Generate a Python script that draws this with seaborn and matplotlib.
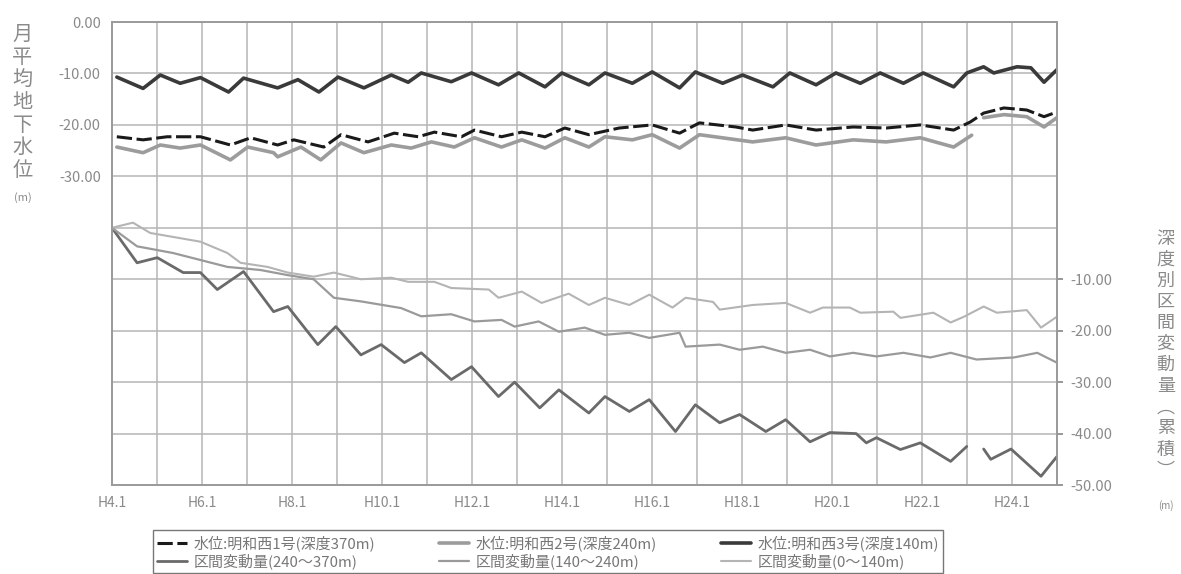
import numpy as np
import pandas as pd
import matplotlib
matplotlib.use("Agg")
import matplotlib.pyplot as plt
import seaborn as sns

# months counted from H4.1 ; values in m (NaN = break in record)
w140_month = [1.3, 8.3, 12.9, 18.2, 23.6, 31.1, 35.1, 44.2, 49.6, 55.2, 60.3, 67.2, 74.5, 79.0, 82.5,
              90.5, 95.9, 103.1, 108.5, 115.5, 120.0, 127.2, 131.5, 138.8, 144.1, 151.4, 155.6, 162.9,
              168.2, 176.3, 180.8, 187.8, 193.1, 199.6, 204.9, 211.1, 216.4, 224.5, 228.0, 232.5, 235.2,
              241.4, 245.1, 248.6, 252.0]
w140_level = [-10.7, -12.9, -10.3, -11.9, -10.8, -13.6, -10.9, -12.8, -11.2, -13.6, -10.7, -12.8, -10.3,
              -11.7, -9.9, -11.6, -9.9, -12.2, -9.9, -12.6, -9.9, -12.2, -9.9, -11.9, -9.7, -12.8, -9.7,
              -11.9, -10.3, -12.6, -9.9, -12.2, -9.9, -11.9, -9.9, -11.9, -9.9, -12.6, -9.9, -8.7, -9.9,
              -8.7, -8.9, -11.7, -9.3]

w370_month = [1.3, 8.3, 14.7, 23.6, 31.6, 37.0, 44.2, 48.5, 56.5, 61.1, 68.3, 75.3, 81.7, 86.0, 93.2,
              96.7, 103.9, 109.3, 115.5, 120.8, 127.2, 135.3, 144.1, 151.4, 156.7, 166.4, 170.9, 179.7,
              187.8, 197.7, 206.5, 215.6, 224.5, 229.0, 232.5, 237.9, 244.0, 248.6, 252.0]
w370_level = [-22.3, -22.9, -22.3, -22.3, -23.9, -22.5, -23.9, -22.9, -24.3, -21.9, -23.3, -21.6, -22.3,
              -21.4, -22.3, -21.0, -22.3, -21.4, -22.3, -20.6, -21.9, -20.6, -20.0, -21.6, -19.6, -20.4,
              -21.0, -20.0, -21.0, -20.4, -20.6, -20.0, -21.0, -19.4, -17.7, -16.7, -17.1, -18.4, -17.5]

w240_month = [1.3, 8.3, 12.9, 18.2, 23.6, 31.6, 36.2, 43.1, 44.2, 50.4, 55.7, 61.1, 67.2, 74.5, 79.8,
              85.2, 91.3, 96.7, 103.9, 109.3, 115.5, 120.8, 127.2, 131.5, 138.8, 144.1, 151.4, 156.7,
              170.9, 179.7, 187.8, 197.7, 206.5, 215.6, 224.5, 229.3, 231.0, 232.5, 237.9, 244.0, 248.6,
              252.0]
w240_level = [-24.3, -25.4, -23.9, -24.5, -23.9, -26.8, -24.3, -25.4, -26.2, -24.3, -26.8, -23.5, -25.4,
              -23.9, -24.5, -23.3, -24.3, -22.5, -24.3, -22.9, -24.5, -22.5, -24.3, -22.3, -22.9, -21.9,
              -24.5, -21.9, -23.3, -22.5, -23.9, -22.9, -23.3, -22.5, -24.3, -22.0, np.nan, -18.6, -18.0,
              -18.4, -20.4, -18.6]

d370_month = [0.0, 6.7, 12.1, 19.0, 23.6, 28.1, 35.1, 43.1, 46.9, 54.9, 59.7, 66.4, 71.8, 78.0, 82.5,
              90.5, 95.9, 103.1, 107.4, 114.1, 119.2, 127.2, 131.5, 138.0, 143.3, 150.3, 155.6, 162.1,
              167.4, 174.4, 179.7, 186.2, 191.5, 198.5, 201.2, 203.9, 210.3, 215.6, 223.7, 228.0, 230.0,
              232.5, 234.4, 239.8, 247.8, 252.0]
d370_change = [0.0, -6.8, -5.8, -8.7, -8.7, -12.0, -8.5, -16.3, -15.3, -22.7, -19.2, -24.7, -22.7, -26.2,
               -24.3, -29.5, -27.0, -32.8, -30.0, -35.0, -31.5, -36.0, -32.8, -35.7, -33.4, -39.6, -34.4,
               -37.9, -36.3, -39.6, -37.3, -41.6, -39.8, -40.0, -41.8, -40.8, -43.1, -41.8, -45.4, -42.5,
               np.nan, -43.0, -45.0, -43.0, -48.3, -44.5]

d240_month = [0.0, 6.7, 16.3, 30.8, 39.6, 46.9, 53.8, 59.2, 66.4, 77.1, 82.5, 90.5, 96.7, 103.9, 107.4,
              113.8, 119.2, 126.1, 131.5, 138.0, 143.3, 151.4, 153.0, 162.1, 167.4, 173.6, 179.7, 186.2,
              191.5, 197.7, 203.9, 211.1, 218.3, 223.7, 230.6, 240.6, 246.8, 252.0]
d240_change = [0.0, -3.6, -4.9, -7.6, -8.2, -9.2, -10.0, -13.6, -14.3, -15.6, -17.2, -16.8, -18.2, -17.9,
               -19.2, -18.2, -20.2, -19.4, -20.8, -20.4, -21.4, -20.4, -23.1, -22.7, -23.7, -23.1, -24.3,
               -23.7, -25.0, -24.3, -25.0, -24.3, -25.2, -24.3, -25.6, -25.2, -24.3, -26.2]

d140_month = [0.0, 5.6, 10.2, 23.6, 30.8, 34.3, 41.5, 46.9, 53.8, 59.2, 66.4, 74.5, 79.0, 86.0, 90.5,
              100.5, 103.1, 109.3, 114.6, 121.8, 127.2, 131.5, 138.0, 143.3, 149.5, 153.0, 160.3, 162.1,
              170.9, 179.7, 186.2, 189.6, 196.8, 199.6, 208.4, 210.3, 219.1, 223.7, 227.2, 232.5, 236.0,
              244.0, 247.8, 252.0]
d140_change = [0.0, 1.0, -1.0, -2.7, -4.9, -6.8, -7.6, -8.7, -9.5, -8.7, -10.0, -9.7, -10.5, -10.5, -11.7,
               -12.0, -13.6, -12.4, -14.6, -12.8, -15.0, -13.6, -15.0, -13.0, -15.5, -13.6, -14.4, -15.9,
               -15.0, -14.6, -16.5, -15.5, -15.5, -16.5, -16.3, -17.5, -16.5, -18.4, -17.3, -15.3, -16.5,
               -16.0, -19.4, -17.3]

legend_labels = ["水位:明和西1号(深度370m)", "水位:明和西2号(深度240m)", "水位:明和西3号(深度140m)",
                 "区間変動量(240～370m)", "区間変動量(140～240m)", "区間変動量(0～140m)"]
x_tick_labels = ["H4.1", "H6.1", "H8.1", "H10.1", "H12.1", "H14.1", "H16.1", "H18.1", "H20.1",
                 "H22.1", "H24.1"]
left_ticks = [0, -10, -20, -30]
right_ticks = [-10, -20, -30, -40, -50]

sns.set_theme(style="white")
plt.rcParams["font.family"] = ["Noto Sans CJK JP", "DejaVu Sans"]


def to_frame(month, value):
    df = pd.DataFrame({"month": month, "value": value})
    df["seg"] = df["value"].isna().cumsum()
    return df.dropna()


fig = plt.figure(figsize=(11.81, 5.74), dpi=100)
ax = fig.add_axes([0.0948, 0.155, 0.8, 0.8066])
ax2 = ax.twinx()

ax.set_xlim(0, 252)
ax.set_ylim(-90, 0)
ax2.set_ylim(-50, 40)

# grid
ax.set_xticks(range(0, 253, 12))
ax.set_xticklabels([x_tick_labels[i // 2] if i % 2 == 0 and i // 2 < len(x_tick_labels) else ""
                    for i in range(22)])
ax.set_yticks(range(-90, 1, 10))
ax.set_yticklabels([f"{t:.2f}" if t in left_ticks else "" for t in range(-90, 1, 10)])
ax.grid(True, color="#b5b5b5", lw=1.1)
ax2.set_yticks(right_ticks)
ax2.set_yticklabels([f"{t:.2f}" for t in right_ticks])
ax2.grid(False)

# lower: cumulative interval change (right axis)
lower = [(d370_month, d370_change, "#6a6a6a", 2.0, legend_labels[3]),
         (d240_month, d240_change, "#9a9a9a", 1.6, legend_labels[4]),
         (d140_month, d140_change, "#b4b4b4", 1.5, legend_labels[5])]
handles = {}
for month, val, col, lw, lab in lower:
    sns.lineplot(data=to_frame(month, val), x="month", y="value", units="seg", estimator=None,
                 color=col, lw=lw, ax=ax2, legend=False)
    handles[lab] = plt.Line2D([], [], color=col, lw=lw)

# upper: monthly mean groundwater level (left axis)
upper = [(w240_month, w240_level, "#9c9c9c", 2.6, "-", legend_labels[1]),
         (w370_month, w370_level, "#1a1a1a", 2.2, (0, (5, 1.5)), legend_labels[0]),
         (w140_month, w140_level, "#3a3a3a", 2.6, "-", legend_labels[2])]
for month, val, col, lw, ls, lab in upper:
    sns.lineplot(data=to_frame(month, val), x="month", y="value", units="seg", estimator=None,
                 color=col, lw=lw, linestyle=ls, ax=ax, legend=False)
    handles[lab] = plt.Line2D([], [], color=col, lw=lw, linestyle=ls)

for a in (ax, ax2):
    a.set_xlabel("")
    a.set_ylabel("")
    for s in a.spines.values():
        s.set_color("#9a9a9a")
        s.set_linewidth(1.2)
ax.tick_params(axis="both", colors="#8a8a8a", labelsize=10, length=0, pad=8)
ax2.tick_params(axis="y", colors="#8a8a8a", labelsize=10.5, length=4, direction="out", pad=6)
for t in ax.get_xticklabels() + ax.get_yticklabels() + ax2.get_yticklabels():
    t.set_color("#8a8a8a")
for t in ax.get_yticklabels():
    t.set_fontsize(10.5)

fig.text(0.019, 0.958, "\n".join("月平均地下水位"), fontsize=14.5, color="#8a8a8a",
         va="top", ha="center", linespacing=1.1)
fig.text(0.019, 0.665, "(m)", fontsize=8, color="#8a8a8a", va="top", ha="center")
fig.text(0.987, 0.6, "\n".join("深度別区間変動量") + "\n︵\n累\n積\n︶", fontsize=13,
         color="#8a8a8a", va="top", ha="center", linespacing=1.22)
fig.text(0.987, 0.12, "(m)", fontsize=7, color="#8a8a8a", va="center", ha="center")

order = [legend_labels[i] for i in (0, 3, 1, 4, 2, 5)]
leg = fig.legend([handles[k] for k in order], order, ncol=3, loc="lower center",
                 bbox_to_anchor=(0.464, -0.012), fontsize=10.8, frameon=True, fancybox=False,
                 edgecolor="#555555", columnspacing=4.3, handlelength=2.0, handletextpad=0.4,
                 borderpad=0.3, labelspacing=0.15, labelcolor="#777777")
leg.get_frame().set_linewidth(1.0)

fig.savefig("out.png", dpi=100)
